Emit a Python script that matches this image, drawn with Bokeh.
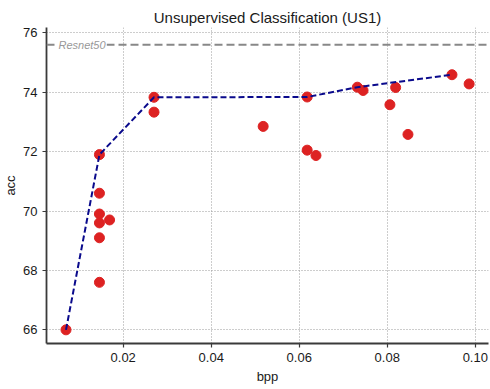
from bokeh.plotting import figure
from bokeh.models import Range1d, Label, FixedTicker, Span, PrintfTickFormatter
from bokeh.embed import file_html
from bokeh.resources import INLINE

# data
bpp = [0.0070, 0.0146, 0.0146, 0.0146, 0.0146, 0.0146, 0.0169, 0.0146,
       0.0270, 0.0270, 0.0518, 0.0618, 0.0618, 0.0638, 0.0732, 0.0745,
       0.0806, 0.0819, 0.0847, 0.0947, 0.0986]
acc = [66.0, 71.9, 70.6, 69.9, 69.6, 69.1, 69.7, 67.6,
       73.83, 73.33, 72.85, 73.84, 72.05, 71.87, 74.17, 74.06,
       73.58, 74.16, 72.58, 74.59, 74.28]
front_bpp = [0.0070, 0.0146, 0.0270, 0.0618, 0.0732, 0.0947]
front_acc = [66.0, 71.9, 73.83, 73.84, 74.17, 74.59]
resnet50 = 75.6
resnet_label = "Resnet50"
x_ticks = [0.02, 0.04, 0.06, 0.08, 0.10]
y_ticks = [66, 68, 70, 72, 74, 76]

FONT = "Liberation Sans"

p = figure(width=490, height=389, output_backend="svg", toolbar_location=None,
           x_range=Range1d(0.00257, 0.1030), y_range=Range1d(65.54, 76.18),
           min_border_left=46, min_border_right=2, min_border_top=27,
           min_border_bottom=46)

p.title.text = "Unsupervised Classification (US1)"
p.title.align = "center"
p.title.vertical_align = "middle"
p.title.text_font = FONT
p.title.text_font_size = "15px"
p.title.text_font_style = "normal"
p.title.text_color = "#1a1a1a"
p.title.standoff = 2
p.title.offset = 0

p.outline_line_color = None
p.background_fill_color = "white"
p.border_fill_color = "white"

for ax in (p.xaxis[0], p.yaxis[0]):
    ax.axis_line_width = 1.8
    ax.axis_line_color = "#3a3a3a"
    ax.major_tick_line_color = "#3a3a3a"
    ax.major_tick_line_width = 1.2
    ax.major_tick_out = 4
    ax.major_tick_in = 0
    ax.minor_tick_line_color = None
    ax.major_label_text_font = FONT
    ax.major_label_text_font_size = "13px"
    ax.major_label_text_color = "#1a1a1a"
    ax.axis_label_text_font = FONT
    ax.axis_label_text_font_size = "13px"
    ax.axis_label_text_font_style = "normal"
    ax.axis_label_text_color = "#1a1a1a"
    ax.major_label_standoff = 5

p.xaxis.axis_label = "bpp"
p.yaxis.axis_label = "acc"
p.xaxis.axis_label_standoff = 4
p.yaxis.axis_label_standoff = 2
p.xaxis.ticker = FixedTicker(ticks=x_ticks)
p.yaxis.ticker = FixedTicker(ticks=y_ticks)
p.xaxis.formatter = PrintfTickFormatter(format="%.2f")
p.yaxis.formatter = PrintfTickFormatter(format="%d")

for g in (p.xgrid[0], p.ygrid[0]):
    g.grid_line_color = "#9a9a9a"
    g.grid_line_dash = "1 2"
    g.grid_line_width = 1

p.add_layout(Span(location=resnet50, dimension="width", line_color="#888888",
                  line_width=2, line_dash="8 4"))
p.add_layout(Label(x=0.00507, y=resnet50, text=resnet_label, text_font=FONT,
                   text_font_size="11px", text_font_style="italic",
                   text_color="#999999", text_baseline="middle",
                   background_fill_color="white", padding=1))

p.scatter(bpp, acc, size=10, color="#dd2222", line_color="#dd2222")
p.line(front_bpp, front_acc, line_color="#0a0a8c", line_width=2, line_dash="6 3")

open("out.html", "w").write(file_html(p, INLINE))
